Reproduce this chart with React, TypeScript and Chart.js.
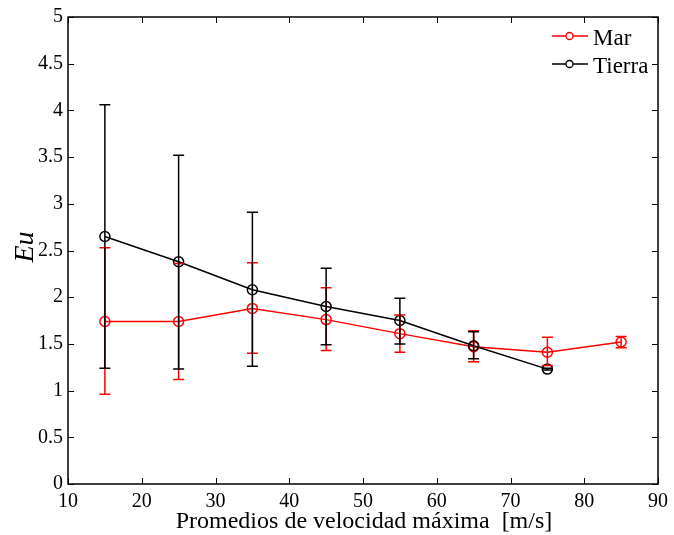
import React, { useEffect, useRef } from "react";
import { Chart, registerables } from "chart.js";

Chart.register(...registerables);

const xTicks = [10, 20, 30, 40, 50, 60, 70, 80, 90];
const yTicks = [0, 0.5, 1, 1.5, 2, 2.5, 3, 3.5, 4, 4.5, 5];

const marX = [15, 25, 35, 45, 55, 65, 75, 85];
const marY = [1.74, 1.74, 1.88, 1.76, 1.61, 1.47, 1.41, 1.52];
const marHi = [2.53, 2.36, 2.37, 2.1, 1.81, 1.64, 1.57, 1.58];
const marLo = [0.96, 1.12, 1.4, 1.43, 1.41, 1.31, 1.27, 1.46];

const tierraX = [15, 25, 35, 45, 55, 65, 75];
const tierraY = [2.65, 2.38, 2.08, 1.9, 1.75, 1.48, 1.23];
const tierraHi = [4.06, 3.52, 2.91, 2.31, 1.99, 1.63, 1.24];
const tierraLo = [1.24, 1.23, 1.26, 1.49, 1.5, 1.34, 1.22];

const RED = "#ff0000";
const BLACK = "#000000";
const FONT = "'Liberation Serif', 'Times New Roman', serif";

const errorBars = {
  id: "errorBars",
  afterDatasetsDraw(chart: any) {
    const { ctx, scales } = chart;
    const xs = scales.x;
    const ys = scales.y;
    const sets = [
      { x: marX, hi: marHi, lo: marLo, c: RED },
      { x: tierraX, hi: tierraHi, lo: tierraLo, c: BLACK },
    ];
    ctx.save();
    ctx.lineWidth = 1.5;
    for (const s of sets) {
      ctx.strokeStyle = s.c;
      s.x.forEach((xv: number, i: number) => {
        const px = xs.getPixelForValue(xv);
        const ph = ys.getPixelForValue(s.hi[i]);
        const pl = ys.getPixelForValue(s.lo[i]);
        ctx.beginPath();
        ctx.moveTo(px, ph);
        ctx.lineTo(px, pl);
        ctx.moveTo(px - 5.5, ph);
        ctx.lineTo(px + 5.5, ph);
        ctx.moveTo(px - 5.5, pl);
        ctx.lineTo(px + 5.5, pl);
        ctx.stroke();
      });
    }
    ctx.restore();
  },
};

const frame = {
  id: "frame",
  afterDraw(chart: any) {
    const { ctx, chartArea: a, scales } = chart;
    const xs = scales.x;
    const ys = scales.y;
    ctx.save();
    ctx.strokeStyle = "#000";
    ctx.lineWidth = 1.5;
    ctx.strokeRect(a.left, a.top, a.right - a.left, a.bottom - a.top);
    ctx.lineWidth = 1;
    const tl = 6;
    ctx.beginPath();
    xTicks.forEach((v) => {
      const px = Math.round(xs.getPixelForValue(v)) + 0.5;
      ctx.moveTo(px, a.bottom);
      ctx.lineTo(px, a.bottom - tl);
      ctx.moveTo(px, a.top);
      ctx.lineTo(px, a.top + tl);
    });
    yTicks.forEach((v) => {
      const py = Math.round(ys.getPixelForValue(v)) + 0.5;
      ctx.moveTo(a.left, py);
      ctx.lineTo(a.left + tl, py);
      ctx.moveTo(a.right, py);
      ctx.lineTo(a.right - tl, py);
    });
    ctx.stroke();

    // axis titles
    ctx.fillStyle = "#000";
    ctx.font = `24px ${FONT}`;
    ctx.textAlign = "center";
    ctx.textBaseline = "alphabetic";
    ctx.fillText("Promedios de velocidad máxima  [m/s]", 364, 528);
    ctx.save();
    ctx.translate(33, 247);
    ctx.rotate(-Math.PI / 2);
    ctx.font = `italic 28px ${FONT}`;
    ctx.fillText("Eu", 0, 0);
    ctx.restore();

    // legend
    const items = [
      { label: "Mar", c: RED, y: 36, base: 45 },
      { label: "Tierra", c: BLACK, y: 64, base: 73 },
    ];
    items.forEach((it) => {
      ctx.strokeStyle = it.c;
      ctx.lineWidth = 1.3;
      ctx.beginPath();
      ctx.moveTo(552, it.y);
      ctx.lineTo(588, it.y);
      ctx.stroke();
      ctx.fillStyle = "#fff";
      ctx.beginPath();
      ctx.arc(569.5, it.y, 3.5, 0, Math.PI * 2);
      ctx.fill();
      ctx.stroke();
      ctx.fillStyle = "#000";
      ctx.font = `23px ${FONT}`;
      ctx.textAlign = "left";
      ctx.textBaseline = "alphabetic";
      ctx.fillText(it.label, 593, it.base);
    });
    ctx.restore();
  },
};

export default function App() {
  const ref = useRef<HTMLCanvasElement>(null);
  useEffect(() => {
    document.body.style.margin = "0";
    const chart = new Chart(ref.current as HTMLCanvasElement, {
      type: "line",
      data: {
        datasets: [
          {
            label: "Mar",
            data: marX.map((x, i) => ({ x, y: marY[i] })),
            borderColor: RED,
            borderWidth: 1.5,
            pointRadius: 5,
            pointBorderWidth: 1.5,
            pointBorderColor: RED,
            pointBackgroundColor: "rgba(0,0,0,0)",
            tension: 0,
            order: 2,
          },
          {
            label: "Tierra",
            data: tierraX.map((x, i) => ({ x, y: tierraY[i] })),
            borderColor: BLACK,
            borderWidth: 1.5,
            pointRadius: 5,
            pointBorderWidth: 1.5,
            pointBorderColor: BLACK,
            pointBackgroundColor: "rgba(0,0,0,0)",
            tension: 0,
            order: 1,
          },
        ],
      },
      options: {
        responsive: false,
        animation: false,
        layout: { padding: { left: 0, top: 14, right: 11, bottom: 0 } },
        plugins: { legend: { display: false }, tooltip: { enabled: false } },
        scales: {
          x: {
            type: "linear",
            min: 10,
            max: 90,
            afterBuildTicks: (s: any) => {
              s.ticks = xTicks.map((v) => ({ value: v }));
            },
            afterFit: (s: any) => {
              s.height = 51;
            },
            grid: { display: false, drawTicks: false },
            border: { display: false },
            ticks: {
              color: "#000",
              padding: 6,
              font: { family: FONT, size: 20 },
              maxRotation: 0,
            },
          },
          y: {
            type: "linear",
            min: 0,
            max: 5,
            afterBuildTicks: (s: any) => {
              s.ticks = yTicks.map((v) => ({ value: v }));
            },
            afterFit: (s: any) => {
              s.width = 68;
            },
            grid: { display: false, drawTicks: false },
            border: { display: false },
            ticks: {
              color: "#000",
              padding: 5,
              font: { family: FONT, size: 20 },
              callback: (v: any) => String(v),
            },
          },
        },
      },
      plugins: [errorBars, frame],
    } as any);
    return () => chart.destroy();
  }, []);
  return (
    <div style={{ position: "absolute", left: 0, top: 0, width: 674, height: 535, background: "#fff" }}>
      <canvas ref={ref} width={674} height={535} />
    </div>
  );
}
